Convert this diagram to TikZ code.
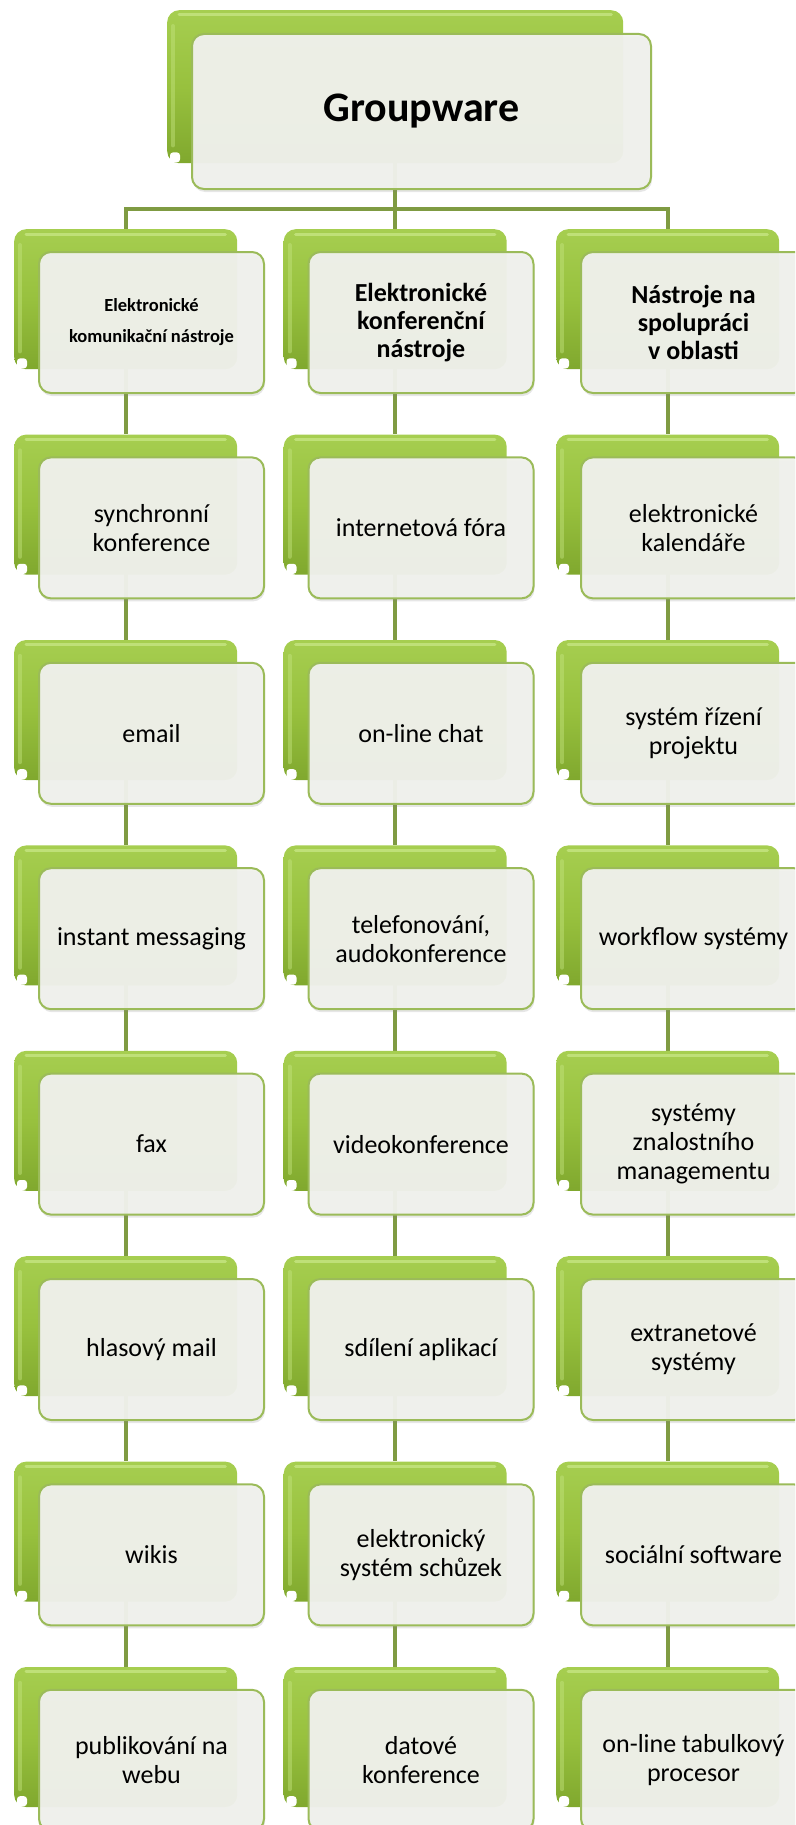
\documentclass[tikz,border=0pt]{standalone}
\usepackage{fontspec}
\setmainfont{Carlito}
\usetikzlibrary{backgrounds,shadows}
\definecolor{gtop}{RGB}{166,206,80}
\definecolor{gmid}{RGB}{152,193,62}
\definecolor{gbot}{RGB}{128,168,46}
\definecolor{ghi}{RGB}{196,228,128}
\definecolor{gborder}{RGB}{155,187,89}
\definecolor{ffill}{RGB}{240,241,236}
\definecolor{conn}{RGB}{127,155,66}
\tikzset{
 backbox/.style={rounded corners=12pt, top color=gtop, bottom color=gbot, middle color=gmid, draw=none, anchor=north west, minimum width=223pt, minimum height=140pt, inner sep=0pt},
 frontbox/.style={rounded corners=12pt, draw=gborder, line width=2pt, fill=ffill, fill opacity=0.96, text opacity=1, anchor=north west, minimum width=225pt, minimum height=141pt, align=center, inner sep=0pt, drop shadow={opacity=0.2, shadow xshift=1pt, shadow yshift=-3pt}},
 itemtext/.style={font=\fontsize{26}{29}\selectfont},
 headtext/.style={font=\fontsize{26}{28}\selectfont\bfseries},
 smallhead/.style={font=\fontsize{18.5}{31}\selectfont\bfseries},
 conline/.style={draw=conn, line width=4pt},
 notch/.style={fill=white, rounded corners=3pt},
 gloss/.style={draw=ghi, line width=3pt, line cap=round, opacity=0.85},
 sidegloss/.style={draw=ghi, line width=4pt, line cap=round, opacity=0.45},
}
\newcommand{\gwdeco}[1]{%
 \draw[gloss] ([shift={(12,5)}]#1.north west) -- ([shift={(-12,5)}]#1.north east);
 \draw[sidegloss] ([shift={(6,16)}]#1.north west) -- ([shift={(6,-18)}]#1.south west);
 \fill[notch] ([shift={(3,-11)}]#1.south west) rectangle ++(10,10);
}
\newcommand{\gwbox}[5]{%
 \node[backbox] (b#1) at (#2,#3) {};
 \gwdeco{b#1}
 \node[frontbox, #4] (f#1) at (#2+24,#3+22) {#5};
}
\begin{document}
\begin{tikzpicture}[x=1pt,y=-1pt]
\useasboundingbox (0,0) rectangle (795,1825);
\clip (0,0) rectangle (795,1825);
% top
\node[backbox, minimum width=456pt, minimum height=153pt] (bg) at (167,10) {};
\gwdeco{bg}
\node[frontbox, minimum width=459pt, minimum height=155pt, font=\fontsize{42}{50}\selectfont\bfseries] (fg) at (191,33) {Groupware};
\coordinate (bus) at (395,209);
% column 1
\gwbox{11}{14}{229}{smallhead}{Elektronické\\komunikační nástroje}
\gwbox{12}{14}{434.4}{itemtext}{synchronní\\konference}
\gwbox{13}{14}{639.8}{itemtext}{email}
\gwbox{14}{14}{845.2}{itemtext}{instant messaging}
\gwbox{15}{14}{1050.6}{itemtext}{fax}
\gwbox{16}{14}{1256}{itemtext}{hlasový mail}
\gwbox{17}{14}{1461.4}{itemtext}{wikis}
\gwbox{18}{14}{1666.8}{itemtext}{publikování na\\webu}
% column 2
\gwbox{21}{283.5}{229}{headtext}{Elektronické\\konferenční\\nástroje}
\gwbox{22}{283.5}{434.4}{itemtext}{internetová fóra}
\gwbox{23}{283.5}{639.8}{itemtext}{on-line chat}
\gwbox{24}{283.5}{845.2}{itemtext}{telefonování,\\audokonference}
\gwbox{25}{283.5}{1050.6}{itemtext}{videokonference}
\gwbox{26}{283.5}{1256}{itemtext}{sdílení aplikací}
\gwbox{27}{283.5}{1461.4}{itemtext}{elektronický\\systém schůzek}
\gwbox{28}{283.5}{1666.8}{itemtext}{datové\\konference}
% column 3
\gwbox{31}{556}{229}{headtext}{Nástroje na\\spolupráci\\v oblasti}
\gwbox{32}{556}{434.4}{itemtext}{elektronické\\kalendáře}
\gwbox{33}{556}{639.8}{itemtext}{systém řízení\\projektu}
\gwbox{34}{556}{845.2}{itemtext}{workflow systémy}
\gwbox{35}{556}{1050.6}{itemtext}{systémy\\znalostního\\managementu}
\gwbox{36}{556}{1256}{itemtext}{extranetové\\systémy}
\gwbox{37}{556}{1461.4}{itemtext}{sociální software}
\gwbox{38}{556}{1666.8}{itemtext}{on-line tabulkový\\procesor}
% connectors
\begin{scope}[on background layer]
\draw[conline] (bg.center) -- (bg.center |- b21.north);
\draw[conline] (b11.north) -- (b11.north |- bus) -- (b31.north |- bus) -- (b31.north);
\foreach \c in {1,2,3}{
 \foreach \r/\n in {1/2,2/3,3/4,4/5,5/6,6/7,7/8}{
  \draw[conline] (b\c\r.center) -- (b\c\n.north);
 }
}
\end{scope}
\end{tikzpicture}
\end{document}
